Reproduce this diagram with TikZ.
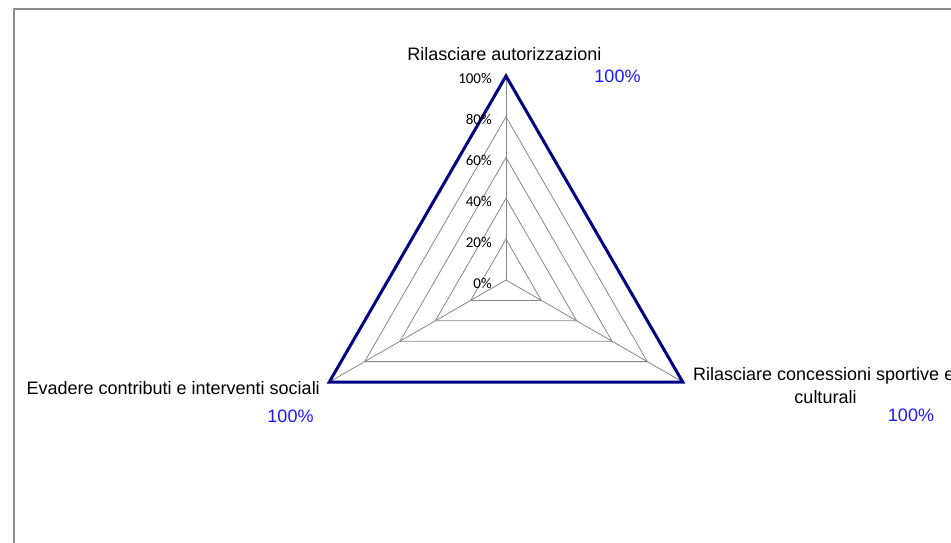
\documentclass[tikz,border=0pt]{standalone}
\usepackage{fontspec}
\setmainfont{Liberation Sans}
\newfontfamily\axisfont{Carlito}
\usetikzlibrary{calc}
\definecolor{framegray}{HTML}{8C8C8C}
\definecolor{gridgray}{HTML}{868686}
\definecolor{navyline}{HTML}{000080}
\definecolor{valblue}{HTML}{1A1AFF}
\tikzset{
  frame/.style={draw=framegray,line width=1.5pt},
  gridline/.style={draw=gridgray,line width=0.8pt},
  dataline/.style={draw=navyline,line width=3pt,line join=miter},
  catlabel/.style={inner sep=0pt,font=\fontsize{18}{22}\selectfont,text=black},
  vallabel/.style={inner sep=0pt,font=\fontsize{18}{22}\selectfont,text=valblue},
  axislabel/.style={inner sep=0pt,font=\axisfont\fontsize{15}{18}\selectfont,text=black,anchor=east}
}
\begin{document}
\begin{tikzpicture}[x=1pt,y=-1pt]
\useasboundingbox (0,0) rectangle (951,542);
\clip (0,0) rectangle (951,542);
\draw[frame] (14,9) rectangle (970,570);
\coordinate (O) at (506,280);
\coordinate (A) at (506,76);
\coordinate (B) at (682.7,382);
\coordinate (C) at (329.3,382);
\foreach \f in {0.2,0.4,0.6,0.8} {
  \draw[gridline] ($(O)!\f!(A)$) -- ($(O)!\f!(B)$) -- ($(O)!\f!(C)$) -- cycle;
}
\draw[gridline] (O) -- (A);
\draw[gridline] (O) -- (B);
\draw[gridline] (O) -- (C);
\draw[dataline] (A) -- (B) -- (C) -- cycle;
\foreach \p/\yy in {0/283,20/242,40/201,60/160,80/119,100/78} {
  \node[axislabel] (ax\p) at (492,\yy) {\p\%};
}
\node[catlabel,anchor=base] (labA) at (504.5,60.7) {Rilasciare autorizzazioni};
\node[vallabel,anchor=base] (valA) at (617.5,82.7) {100\%};
\node[catlabel,anchor=base west] (labB) at (693,380.7) {Rilasciare concessioni sportive e};
\node[catlabel,anchor=base] (labBb) at (825.5,403) {culturali};
\node[vallabel,anchor=base] (valB) at (911,421.7) {100\%};
\node[catlabel,anchor=base east] (labC) at (320,394) {Evadere contributi e interventi sociali};
\node[vallabel,anchor=base] (valC) at (290.5,422) {100\%};
\end{tikzpicture}
\end{document}
